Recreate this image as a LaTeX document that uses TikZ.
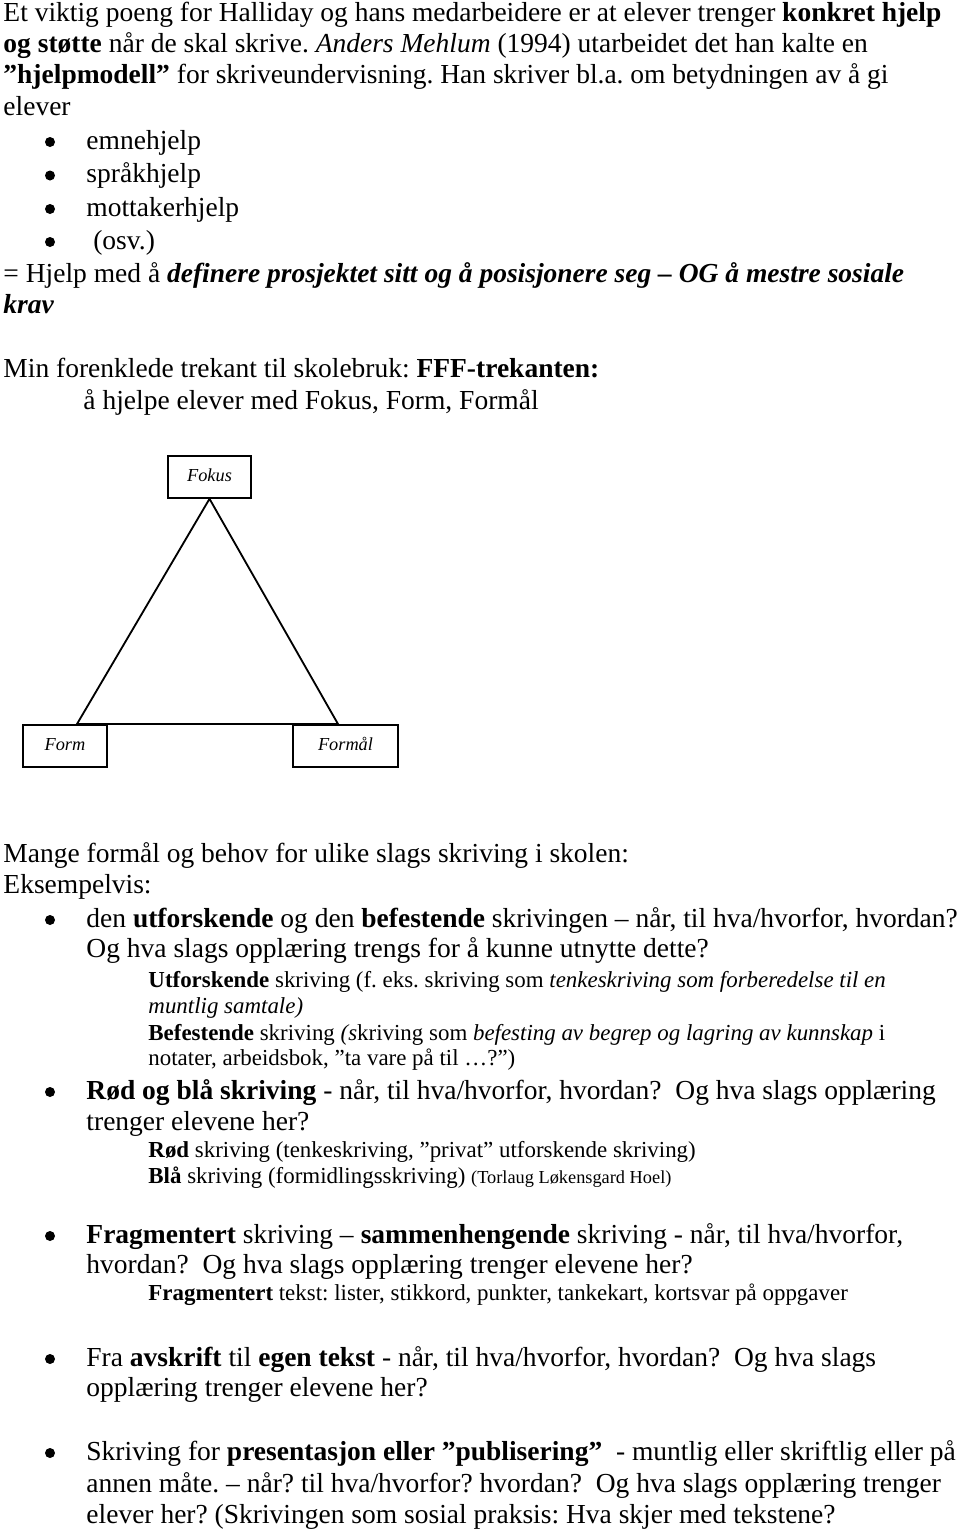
\documentclass[tikz,border=0pt]{standalone}
\usepackage{fontspec}
\setmainfont{Liberation Serif}
\usetikzlibrary{positioning}

\tikzset{
  txt/.style={anchor=base west, inner sep=0pt, font=\fontsize{12}{14}\selectfont},
  smalltxt/.style={txt, font=\fontsize{10}{12}\selectfont},
  cornerbox/.style={draw, line width=0.75pt, inner sep=0pt, minimum height=18.3pt,
    text height=6pt, text depth=1.8pt, font=\fontsize{8}{10}\selectfont\itshape},
}

\begin{document}
\frenchspacing
\begin{tikzpicture}[x=0.4364pt, y=-0.4364pt]
	\useasboundingbox (0,0) rectangle (960,1532);

	% opening paragraph
	\node[txt] (intro1) at (3,21) {Et viktig poeng for Halliday og hans medarbeidere er at elever trenger \textbf{konkret hjelp}};
	\node[txt] (intro2) at (3,52) {\textbf{og støtte} når de skal skrive. \textit{Anders Mehlum} (1994) utarbeidet det han kalte en};
	\node[txt] (intro3) at (3,83) {\textbf{”hjelpmodell”} for skriveundervisning. Han skriver bl.a. om betydningen av å gi};
	\node[txt] (intro4) at (3,115) {elever};

	\fill (50,142) circle [radius=5];
	\node[txt] (emne) at (86,149) {emnehjelp};
	\fill (50,175.5) circle [radius=5];
	\node[txt] (sprak) at (86,182.5) {språkhjelp};
	\fill (50,209) circle [radius=5];
	\node[txt] (mottaker) at (86,216) {mottakerhjelp};
	\fill (50,242) circle [radius=5];
	\node[txt] (osv) at (86,249) {\ (osv.)};

	\node[txt] (hjelp1) at (3,282) {= Hjelp med å \textbf{\textit{definere prosjektet sitt og å posisjonere seg – OG å mestre sosiale}}};
	\node[txt] (hjelp2) at (3,313) {\textbf{\textit{krav}}};

	\node[txt] (fff1) at (3,377) {Min forenklede trekant til skolebruk: \textbf{FFF-trekanten:}};
	\node[txt] (fff2) at (83,409) {å hjelpe elever med Fokus, Form, Formål};

	% the triangle
	\node[cornerbox, minimum width=36.2pt] (fokus) at (209.5,477) {Fokus};
	\node[cornerbox, minimum width=36.7pt] (form) at (65,746) {Form};
	\node[cornerbox, minimum width=45.8pt] (formal) at (345.5,746) {Formål};
	\coordinate (baseL) at (77,724);
	\coordinate (baseR) at (338,724);
	\draw[line width=0.8pt, line join=miter] (fokus.south) -- (baseL) -- (baseR) -- cycle;

	% second part
	\node[txt] (mange) at (3,862) {Mange formål og behov for ulike slags skriving i skolen:};
	\node[txt] (eks) at (3,893) {Eksempelvis:};

	\fill (50,920) circle [radius=5];
	\node[txt] (utf1) at (86,927) {den \textbf{utforskende} og den \textbf{befestende} skrivingen – når, til hva/hvorfor, hvordan?};
	\node[txt] (utf2) at (86,957) {Og hva slags opplæring trengs for å kunne utnytte dette?};
	\node[smalltxt] (utf3) at (148,987) {\textbf{Utforskende} skriving (f. eks. skriving som \textit{tenkeskriving som forberedelse til en}};
	\node[smalltxt] (utf4) at (148,1013) {\textit{muntlig samtale)}};
	\node[smalltxt] (bef1) at (148,1040) {\textbf{Befestende} skriving \textit{(s}kriving som \textit{befesting av begrep og lagring av kunnskap} i};
	\node[smalltxt] (bef2) at (148,1065) {notater, arbeidsbok, ”ta vare på til …?”)};

	\fill (50,1092) circle [radius=5];
	\node[txt] (rod1) at (86,1099) {\textbf{Rød og blå skriving} - når, til hva/hvorfor, hvordan?\ \ Og hva slags opplæring};
	\node[txt] (rod2) at (86,1130) {trenger elevene her?};
	\node[smalltxt] (rod3) at (148,1157) {\textbf{Rød} skriving (tenkeskriving, ”privat” utforskende skriving)};
	\node[smalltxt] (bla) at (148,1183) {\textbf{Blå} skriving (formidlingsskriving) {\fontsize{8}{10}\selectfont (Torlaug Løkensgard Hoel)}};

	\fill (50,1236) circle [radius=5];
	\node[txt] (frag1) at (86,1243) {\textbf{Fragmentert} skriving – \textbf{sammenhengende} skriving - når, til hva/hvorfor,};
	\node[txt] (frag2) at (86,1273) {hvordan?\ \ Og hva slags opplæring trenger elevene her?};
	\node[smalltxt] (frag3) at (148,1300) {\textbf{Fragmentert} tekst: lister, stikkord, punkter, tankekart, kortsvar på oppgaver};

	\fill (50,1359) circle [radius=5];
	\node[txt] (avs1) at (86,1366) {Fra \textbf{avskrift} til \textbf{egen tekst} - når, til hva/hvorfor, hvordan?\ \ Og hva slags};
	\node[txt] (avs2) at (86,1396) {opplæring trenger elevene her?};

	\fill (50,1453) circle [radius=5];
	\node[txt] (pub1) at (86,1460) {Skriving for \textbf{presentasjon eller ”publisering”}\ \ - muntlig eller skriftlig eller på};
	\node[txt] (pub2) at (86,1492) {annen måte. – når? til hva/hvorfor? hvordan?\ \ Og hva slags opplæring trenger};
	\node[txt] (pub3) at (86,1523) {elever her? (Skrivingen som sosial praksis: Hva skjer med tekstene?};
\end{tikzpicture}
\end{document}
